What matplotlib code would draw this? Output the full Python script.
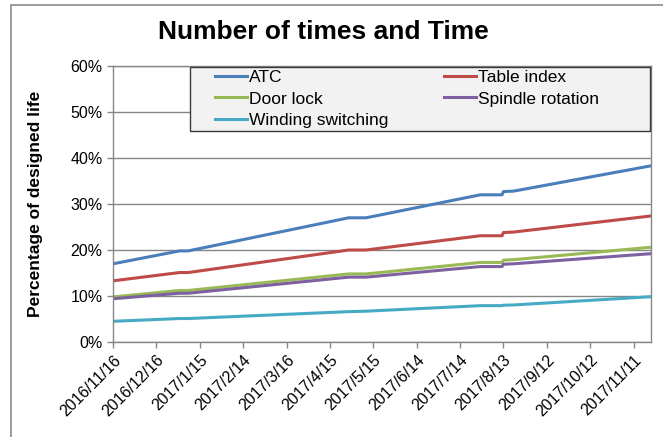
import datetime as dt
import matplotlib
matplotlib.use("Agg")
import matplotlib.pyplot as plt
import matplotlib.dates as mdates
from matplotlib.patches import Rectangle

plt.rcParams['font.family'] = ['Liberation Sans', 'DejaVu Sans']

# life consumption checkpoints (percent of designed life)
dates = ["2016-11-16", "2017-01-01", "2017-01-07", "2017-04-28", "2017-05-10",
         "2017-07-28", "2017-08-12", "2017-08-13", "2017-08-20", "2017-11-23"]
atc = [17.0, 19.8, 19.8, 27.0, 27.0, 32.0, 32.0, 32.7, 32.8, 38.3]
table_index = [13.3, 15.1, 15.1, 20.0, 20.0, 23.1, 23.1, 23.8, 23.9, 27.4]
door_lock = [9.8, 11.2, 11.2, 14.8, 14.8, 17.3, 17.3, 17.8, 17.9, 20.6]
spindle = [9.4, 10.6, 10.6, 14.1, 14.1, 16.4, 16.4, 16.9, 17.0, 19.2]
winding = [4.5, 5.1, 5.1, 6.6, 6.7, 7.9, 7.9, 8.0, 8.05, 9.85]

tick_dates = ["2016-11-16", "2016-12-16", "2017-01-15", "2017-02-14", "2017-03-16",
              "2017-04-15", "2017-05-15", "2017-06-14", "2017-07-14", "2017-08-13",
              "2017-09-12", "2017-10-12", "2017-11-11"]
y_ticks = [0, 10, 20, 30, 40, 50, 60]

x = [dt.datetime.strptime(d, "%Y-%m-%d") for d in dates]
xt = [dt.datetime.strptime(d, "%Y-%m-%d") for d in tick_dates]

W, H = 663, 437
fig = plt.figure(figsize=(W / 100, H / 100), dpi=100)
ax = fig.add_axes([113 / W, 1 - 342 / H, (651 - 113) / W, (342 - 66) / H])

grey = "#868686"
lw = 2.2
l_atc, = ax.plot(x, atc, color="#4A7EBB", lw=lw, label="ATC")
l_tab, = ax.plot(x, table_index, color="#BE4B48", lw=lw, label="Table index")
l_door, = ax.plot(x, door_lock, color="#98B954", lw=lw, label="Door lock")
l_spin, = ax.plot(x, spindle, color="#7D60A0", lw=lw, label="Spindle rotation")
l_wind, = ax.plot(x, winding, color="#46AAC5", lw=lw, label="Winding switching")

ax.set_xlim(x[0], x[-1])
ax.set_ylim(0, 60)
ax.set_yticks(y_ticks)
ax.set_yticklabels([f"{v}%" for v in y_ticks])
ax.set_xticks(xt)
ax.set_xticklabels([f"{d.year}/{d.month}/{d.day}" for d in xt],
                   rotation=45, ha="right", rotation_mode="anchor")
ax.tick_params(labelsize=11.5, length=4.5, width=1, color=grey, pad=3)
ax.grid(axis="y", color=grey, lw=1)
ax.set_axisbelow(True)
for s in ax.spines.values():
    s.set_color(grey)
    s.set_linewidth(1)

ax.set_ylabel("Percentage of designed life", fontsize=12.5, fontweight="bold", labelpad=20)

fig.text(323 / W, 1 - 32 / H, "Number of times and Time", fontsize=19,
         fontweight="bold", ha="center", va="center")

# chart outline and legend box
fig.patches.append(Rectangle((11 / W, -0.05), 1.0, 1 - 5 / H + 0.05,
                             transform=fig.transFigure, fill=False,
                             edgecolor="#8a8a8a", lw=1.2))
fig.patches.append(Rectangle((190 / W, 1 - 131 / H), (650 - 190) / W, (131 - 67) / H,
                             transform=fig.transFigure, facecolor="#f2f2f2",
                             edgecolor="#3a3a3a", lw=1, zorder=2))

leg = fig.legend([l_atc, l_door, l_wind, l_tab, l_spin],
                 ["ATC", "Door lock", "Winding switching", "Table index", "Spindle rotation"],
                 loc="upper left", bbox_to_anchor=(215 / W, 1 - 70 / H),
                 ncol=2, frameon=False, fontsize=12.5, borderpad=0, borderaxespad=0,
                 handlelength=1.85, handletextpad=0.1, labelspacing=0.36,
                 columnspacing=3.2)
leg.set_zorder(5)

fig.savefig("out.png", dpi=100)
